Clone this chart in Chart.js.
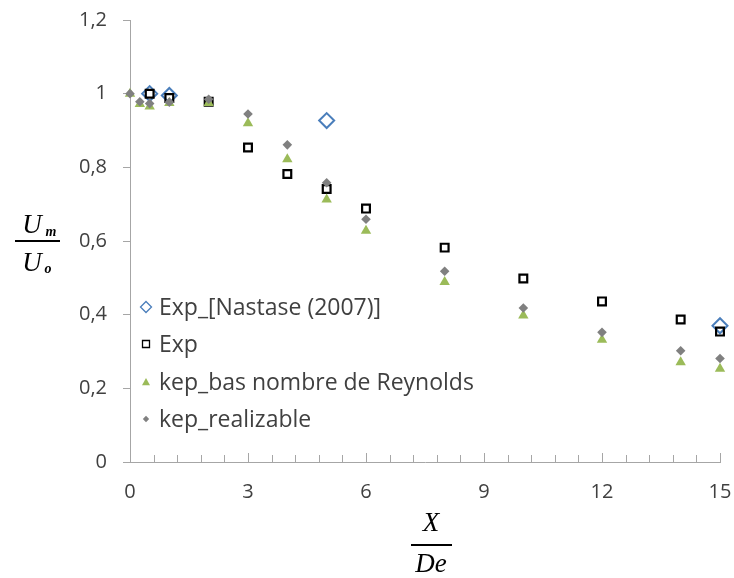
<!DOCTYPE html>
<html>
<head>
<meta charset="utf-8">
<script src="https://cdn.jsdelivr.net/npm/chart.js@4"></script>
<style>
  html, body { margin: 0; padding: 0; background: #fff; }
  #wrap { width: 734px; height: 578px; }
</style>
</head>
<body>
<div id="wrap"><canvas id="myChart" width="734" height="578"></canvas></div>
<script>
// values
const seriesNames = ['Exp_[Nastase (2007)]', 'Exp', 'kep_bas nombre de Reynolds', 'kep_realizable'];

const xNastase = [0.5, 1, 5, 15];
const yNastase = [1.0, 0.995, 0.927, 0.37];

const xExp = [0.5, 1, 2, 3, 4, 5, 6, 8, 10, 12, 14, 15];
const yExp = [1.0, 0.988, 0.978, 0.854, 0.782, 0.741, 0.688, 0.582, 0.498, 0.436, 0.387, 0.354];

const xModel = [0, 0.25, 0.5, 1, 2, 3, 4, 5, 6, 8, 10, 12, 14, 15];
const yBas = [1.0, 0.972, 0.965, 0.975, 0.975, 0.92, 0.822, 0.713, 0.628, 0.489, 0.398, 0.332, 0.271, 0.253];
const yReal = [1.0, 0.978, 0.973, 0.977, 0.985, 0.945, 0.861, 0.758, 0.659, 0.518, 0.418, 0.352, 0.302, 0.281];

const xTickLabels = [0, 3, 6, 9, 12, 15];
const yTickLabels = ['0', '0,2', '0,4', '0,6', '0,8', '1', '1,2'];

const pairs = (xs, ys) => xs.map((x, i) => ({ x: x, y: ys[i] }));

const axisColor = '#a6a6a6';
const textColor = '#404040';
const labelFont = '"Open Sans", sans-serif';

// legend drawn inside the plot, on the left
const legendBox = {
    id: 'legendBox',
    afterDraw(chart) {
        const ctx = chart.ctx;
        const rows = [307, 344, 382, 419];
        ctx.save();
        ctx.font = '23px ' + labelFont;
        ctx.textBaseline = 'middle';
        chart.data.datasets.forEach((ds, i) => {
            const y = rows[i], x = 146;
            const r = ds.legendSize;
            ctx.beginPath();
            if (ds.pointStyle === 'rectRot') {
                ctx.moveTo(x, y - r); ctx.lineTo(x + r, y); ctx.lineTo(x, y + r); ctx.lineTo(x - r, y); ctx.closePath();
            } else if (ds.pointStyle === 'rect') {
                ctx.rect(x - r, y - r, 2 * r, 2 * r);
            } else {
                ctx.moveTo(x, y - r); ctx.lineTo(x + r, y + r * 0.8); ctx.lineTo(x - r, y + r * 0.8); ctx.closePath();
            }
            if (ds.backgroundColor !== 'rgba(0,0,0,0)') { ctx.fillStyle = ds.backgroundColor; ctx.fill(); }
            if (ds.legendLine) {
                ctx.lineWidth = ds.legendLine;
                ctx.strokeStyle = ds.borderColor;
                ctx.stroke();
            }
            ctx.fillStyle = textColor;
            ctx.fillText(ds.label, 159, y + 1);
        });
        ctx.restore();
    }
};

// fraction titles and inside tick marks on the x axis
const axisExtras = {
    id: 'axisExtras',
    afterDraw(chart) {
        const ctx = chart.ctx;
        const xs = chart.scales.x;
        const bottom = chart.chartArea.bottom;
        ctx.save();
        ctx.strokeStyle = axisColor;
        ctx.lineWidth = 1;
        xs.ticks.forEach(t => {
            const px = Math.round(xs.getPixelForValue(t.value)) + 0.5;
            const major = Math.abs(t.value / 3 - Math.round(t.value / 3)) < 1e-6;
            ctx.beginPath();
            ctx.moveTo(px, bottom);
            ctx.lineTo(px, bottom - (major ? 9 : 7));
            ctx.stroke();
        });

        ctx.fillStyle = '#000';
        ctx.strokeStyle = '#000';
        ctx.textAlign = 'center';
        ctx.textBaseline = 'alphabetic';
        // y title: Um / Uo
        ctx.font = 'italic 27px "Liberation Serif", serif';
        ctx.fillText('U', 32, 233);
        ctx.fillText('U', 32, 271);
        ctx.font = 'italic bold 14px "Liberation Serif", serif';
        ctx.fillText('m', 51, 236);
        ctx.fillText('o', 48, 273);
        ctx.lineWidth = 2;
        ctx.beginPath(); ctx.moveTo(15, 241); ctx.lineTo(60, 241); ctx.stroke();
        // x title: X / De
        ctx.font = 'italic 27px "Liberation Serif", serif';
        ctx.fillText('X', 431, 531);
        ctx.fillText('De', 431, 572);
        ctx.beginPath(); ctx.moveTo(411, 545); ctx.lineTo(452, 545); ctx.stroke();
        ctx.restore();
    }
};

const noPad = s => { s.paddingLeft = 0; s.paddingRight = 0; s.paddingTop = 0; s.paddingBottom = 0; };

const ctx = document.getElementById('myChart').getContext('2d');
const myChart = new Chart(ctx, {
    type: 'scatter',
    data: {
        datasets: [{
            label: seriesNames[0],
            data: pairs(xNastase, yNastase),
            pointStyle: 'rectRot',
            pointRadius: 7.5,
            borderColor: '#4a7ebb',
            backgroundColor: 'rgba(0,0,0,0)',
            pointBorderWidth: 2,
            legendSize: 5.5, legendLine: 1.3,
            order: 4
        }, {
            label: seriesNames[1],
            data: pairs(xExp, yExp),
            pointStyle: 'rect',
            pointRadius: 5.5,
            borderColor: '#000000',
            backgroundColor: 'rgba(0,0,0,0)',
            pointBorderWidth: 2.2,
            legendSize: 3.5, legendLine: 1.3,
            order: 3
        }, {
            label: seriesNames[2],
            data: pairs(xModel, yBas),
            pointStyle: 'triangle',
            pointRadius: 6,
            borderColor: '#9bbb59',
            backgroundColor: '#9bbb59',
            pointBorderWidth: 0,
            legendSize: 4, legendLine: 0,
            order: 2
        }, {
            label: seriesNames[3],
            data: pairs(xModel, yReal),
            pointStyle: 'rectRot',
            pointRadius: 4.8,
            borderColor: '#808080',
            backgroundColor: '#808080',
            pointBorderWidth: 0,
            legendSize: 3.2, legendLine: 0,
            order: 1
        }]
    },
    options: {
        responsive: false,
        animation: false,
        clip: false,
        layout: { autoPadding: false, padding: { top: 20, right: 14, left: 0, bottom: 0 } },
        plugins: {
            legend: { display: false },
            tooltip: { enabled: false }
        },
        scales: {
            x: {
                type: 'linear',
                min: 0,
                max: 15,
                afterFit: s => { s.height = 116; noPad(s); },
                ticks: {
                    stepSize: 0.6,
                    autoSkip: false,
                    maxRotation: 0,
                    padding: 18,
                    color: textColor,
                    font: { family: labelFont, size: 20 },
                    callback: v => {
                        const k = Math.round(v / 3) * 3;
                        return (Math.abs(v - k) < 1e-6 && xTickLabels.includes(k)) ? String(k) : '';
                    }
                },
                grid: { display: false, drawTicks: false },
                border: { color: axisColor, width: 1 }
            },
            y: {
                min: 0,
                max: 1.2,
                afterFit: s => { s.width = 130; noPad(s); },
                ticks: {
                    stepSize: 0.2,
                    padding: 16,
                    color: textColor,
                    font: { family: labelFont, size: 20 },
                    callback: v => yTickLabels[Math.round(v / 0.2)]
                },
                grid: { drawOnChartArea: false, tickLength: 7, color: axisColor },
                border: { color: axisColor, width: 1 }
            }
        }
    },
    plugins: [legendBox, axisExtras]
});
</script>
</body>
</html>
